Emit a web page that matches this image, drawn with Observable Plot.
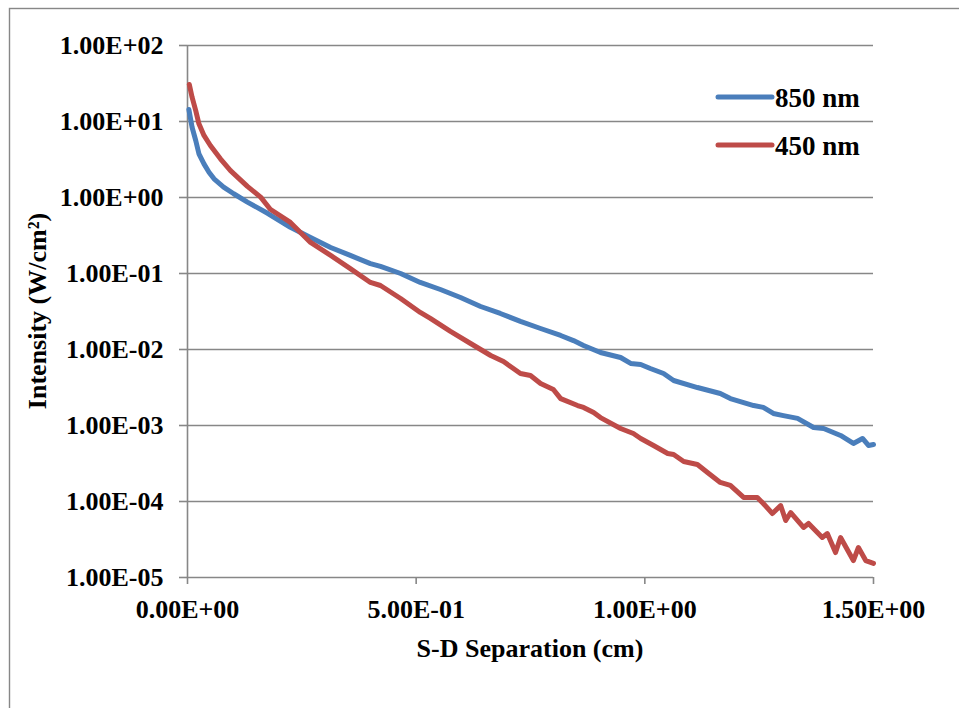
<!DOCTYPE html>
<html>
<head>
<meta charset="utf-8">
<script src="https://cdn.jsdelivr.net/npm/d3@7"></script>
<script src="https://cdn.jsdelivr.net/npm/@observablehq/plot@0.6"></script>
<style>
  html, body { margin: 0; padding: 0; background: #ffffff; }
  #chart svg { display: block; }
  #chart svg, #chart svg text {
    font-family: "Liberation Serif", "Times New Roman", serif !important;
    font-weight: bold;
  }
</style>
</head>
<body>
<div id="chart"></div>
<script>
// Source–detector separation (cm) and detected intensity (W/cm²) for each wavelength
const series = ["850 nm", "450 nm"];
const colors = ["#4a7ebb", "#be4b48"];

const sep850 = [0.003, 0.010, 0.018, 0.025, 0.036, 0.047, 0.058, 0.079, 0.101, 0.131,
  0.175, 0.225, 0.269, 0.313,
  0.356, 0.400, 0.422, 0.466, 0.509, 0.553, 0.597, 0.641, 0.684, 0.728,
  0.772, 0.816, 0.844, 0.866, 0.903, 0.947, 0.969, 0.991, 1.012, 1.041,
  1.063, 1.115, 1.165, 1.187, 1.238, 1.259, 1.281, 1.303, 1.334, 1.369,
  1.391, 1.428, 1.456, 1.476, 1.489, 1.500];
const int850 = [14.4, 8.41, 5.62, 3.76, 2.77, 2.15, 1.76, 1.37, 1.12, 0.87,
  0.62, 0.405, 0.298, 0.220,
  0.173, 0.135, 0.124, 0.100, 0.0762, 0.0616, 0.0483, 0.0368, 0.0298, 0.0234,
  0.0189, 0.0153, 0.0131, 0.0113, 0.00913, 0.00785, 0.00655, 0.00635, 0.00562, 0.00483,
  0.00391, 0.00316, 0.00264, 0.00226, 0.00183, 0.00173, 0.00144, 0.00135, 0.00124, 0.000942,
  0.000914, 0.000739, 0.000580, 0.000675, 0.000546, 0.000562];

const sep450 = [0.004, 0.010, 0.018, 0.025, 0.036, 0.050, 0.072, 0.094, 0.131, 0.160,
  0.181, 0.225, 0.269,
  0.313, 0.356, 0.400, 0.422, 0.466, 0.509, 0.531, 0.575, 0.619, 0.663,
  0.691, 0.728, 0.750, 0.772, 0.800, 0.816, 0.853, 0.866, 0.888, 0.903,
  0.947, 0.975, 0.991, 1.019, 1.050, 1.063, 1.085, 1.115, 1.137, 1.165,
  1.187, 1.216, 1.246, 1.259, 1.279, 1.297, 1.308, 1.319, 1.347, 1.358,
  1.388, 1.399, 1.417, 1.428, 1.456, 1.467, 1.483, 1.500];
const int450 = [30.7, 20.9, 13.9, 9.33, 6.55, 4.83, 3.23, 2.26, 1.40, 1.01,
  0.70, 0.47, 0.256,
  0.173, 0.116, 0.0762, 0.0695, 0.0469, 0.0307, 0.0256, 0.0173, 0.0120, 0.00834,
  0.00695, 0.00483, 0.00455, 0.00357, 0.00298, 0.00226, 0.00183, 0.00173, 0.00148, 0.00127,
  0.000914, 0.000785, 0.000675, 0.000546, 0.000428, 0.000415, 0.000336, 0.000307, 0.000241, 0.000178,
  0.000163, 0.000113, 0.000113, 0.0000942, 0.0000695, 0.0000885, 0.0000562, 0.0000716, 0.0000455, 0.0000514,
  0.0000336, 0.0000379, 0.0000213, 0.0000336, 0.0000167, 0.0000248, 0.0000167, 0.0000153];

// Axis ticks
const xTicks = [0, 0.5, 1.0, 1.5];
const yTicks = [1e-5, 1e-4, 1e-3, 1e-2, 1e-1, 1e0, 1e1, 1e2];

const xTitle = "S-D Separation (cm)";
const yTitle = "Intensity (W/cm²)";

// Spreadsheet-style scientific notation: 1.00E+02, 5.00E-01
function sci(d) {
  const [mant, exp] = d.toExponential(2).split("e");
  const sign = exp[0] === "-" ? "-" : "+";
  const digits = exp.replace(/^[+-]/, "").padStart(2, "0");
  return `${mant}E${sign}${digits}`;
}

const rows850 = sep850.map((x, i) => ({x, y: int850[i]}));
const rows450 = sep450.map((x, i) => ({x, y: int450[i]}));

const gray = "#878787";
const font = "Liberation Serif, Times New Roman, serif";

const chart = Plot.plot({
  width: 959,
  height: 708,
  marginLeft: 187,
  marginRight: 86,
  marginTop: 45,
  marginBottom: 131,
  style: "font-family: 'Liberation Serif', 'Times New Roman', serif; font-weight: bold; font-size: 26px; color: #000; background: #fff; overflow: visible;",
  x: {domain: [0, 1.5]},
  y: {type: "log", domain: [1e-5, 1e2]},
  marks: [
    Plot.gridY(yTicks, {stroke: gray, strokeOpacity: 1, strokeWidth: 1.6}),
    Plot.ruleX([0], {stroke: gray, strokeWidth: 1.6}),
    Plot.axisY(yTicks, {
      tickSize: 8, tickPadding: 16, tickFormat: sci, stroke: gray, strokeWidth: 1.6,
      fill: "#000", fontSize: 26, fontWeight: "bold", fontFamily: font, label: null
    }),
    Plot.axisX(xTicks, {
      tickSize: 7, tickPadding: 15, tickFormat: sci, stroke: gray, strokeWidth: 1.6,
      fill: "#000", fontSize: 26, fontWeight: "bold", fontFamily: font, label: null
    }),
    Plot.line(rows850, {x: "x", y: "y", stroke: colors[0], strokeWidth: 5, strokeLinejoin: "round", strokeLinecap: "round"}),
    Plot.line(rows450, {x: "x", y: "y", stroke: colors[1], strokeWidth: 5, strokeLinejoin: "round", strokeLinecap: "round"})
  ]
});

document.getElementById("chart").append(chart);

// Chart-area border, axis titles and legend
const svg = d3.select(chart);
svg.insert("rect", ":first-child")
  .attr("x", 9.5).attr("y", 8.5)
  .attr("width", 1000).attr("height", 1000)
  .attr("fill", "none").attr("stroke", gray).attr("stroke-width", 1.4);

svg.append("text")
  .attr("x", 530).attr("y", 657)
  .attr("text-anchor", "middle")
  .attr("font-family", font).attr("font-weight", "bold")
  .attr("font-size", 26)
  .attr("fill", "#000")
  .text(xTitle);

svg.append("text")
  .attr("transform", "translate(46,311) rotate(-90)")
  .attr("text-anchor", "middle")
  .attr("font-family", font).attr("font-weight", "bold")
  .attr("font-size", 26)
  .attr("fill", "#000")
  .text(yTitle);

const legend = svg.append("g");
series.forEach((name, i) => {
  const cy = 97 + i * 48;
  legend.append("line")
    .attr("x1", 718).attr("x2", 772)
    .attr("y1", cy).attr("y2", cy)
    .attr("stroke", colors[i]).attr("stroke-width", 5).attr("stroke-linecap", "round");
  legend.append("text")
    .attr("x", 775).attr("y", cy + 10)
    .attr("text-anchor", "start")
    .attr("font-family", font).attr("font-weight", "bold")
    .attr("font-size", 27)
    .attr("fill", "#000")
    .text(name);
});
</script>
</body>
</html>
